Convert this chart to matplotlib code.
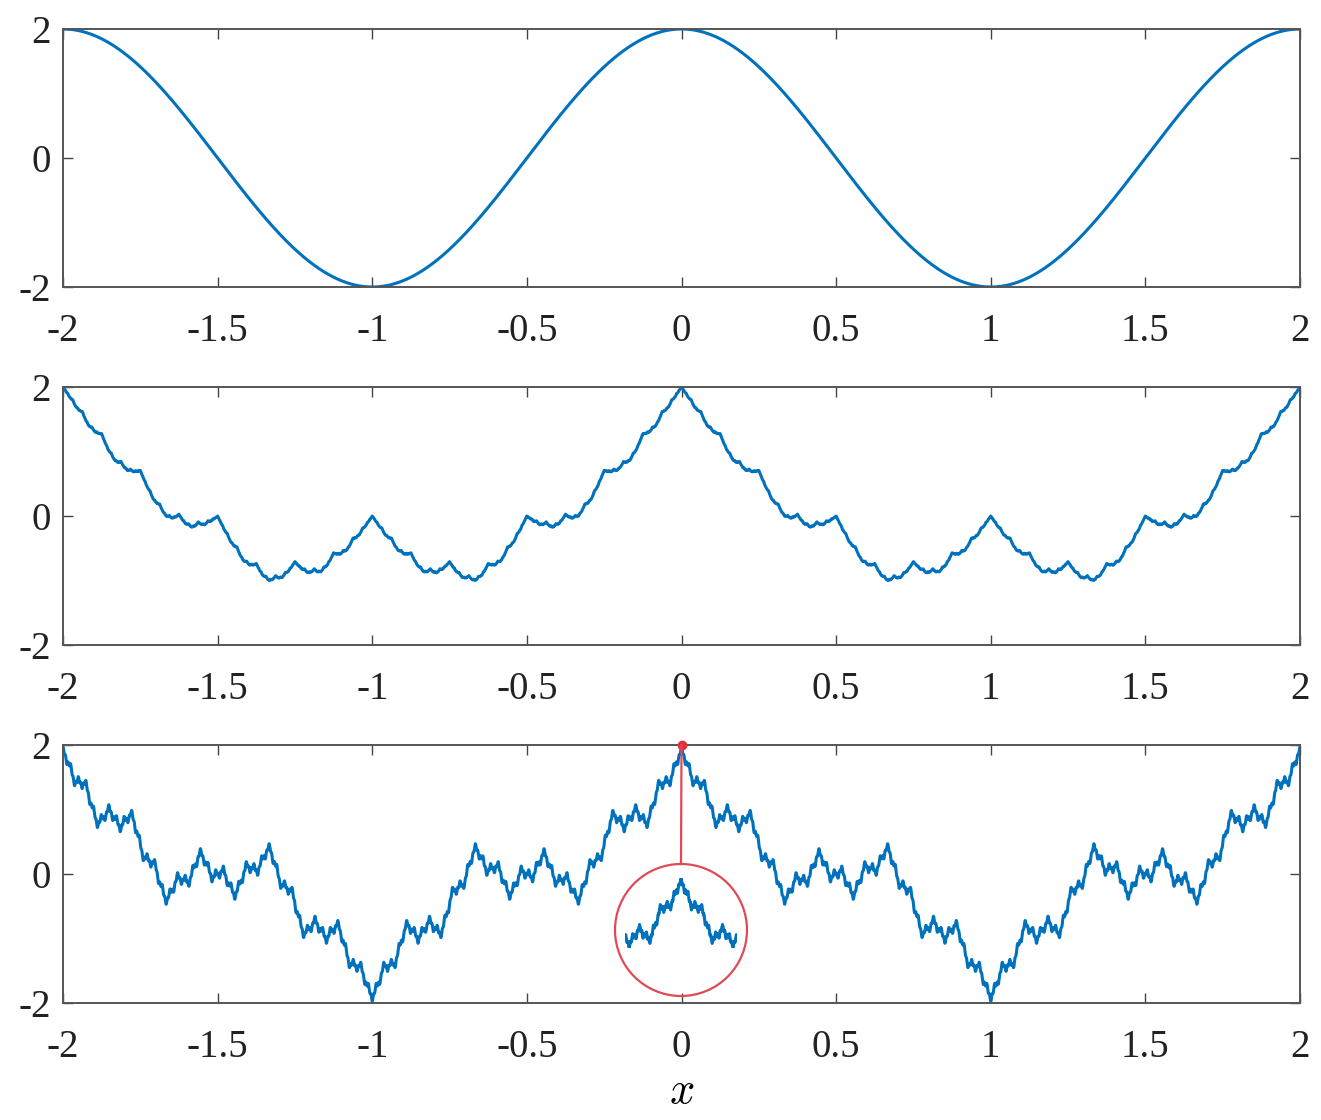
import numpy as np
import matplotlib
matplotlib.use("Agg")
import matplotlib.pyplot as plt
from matplotlib.patches import Ellipse
from matplotlib.lines import Line2D

# Weierstrass-type sums W(x) = sum a^n cos(b^n pi x), parameters
# (values at x = 0, +-1 and +-2/3 fix a = 0.5 and b = 1, 2, 3)
ratio_a = [0.5, 0.5, 0.5]
base_b = [1, 2, 3]
n_terms = [30, 12, 6]
x_ticks = [-2, -1.5, -1, -0.5, 0, 0.5, 1, 1.5, 2]
x_tick_labels = ["-2", "-1.5", "-1", "-0.5", "0", "0.5", "1", "1.5", "2"]
y_ticks = [-2, 0, 2]
y_tick_labels = ["-2", "0", "2"]
inset_range = [-0.2 / 3, 0.2 / 3]   # zoomed window shown inside the circle
peak = [0, 2]

plt.rcParams["font.family"] = ["Liberation Serif", "DejaVu Serif"]
plt.rcParams["mathtext.fontset"] = "cm"
plt.rcParams["axes.unicode_minus"] = False

blue = "#0072BD"
red = "#e0303a"
W, H = 1321, 1120


def weier(x, a, b, n):
    y = np.zeros_like(x)
    for k in range(n):
        y += a ** k * np.cos(b ** k * np.pi * x)
    return y


fig = plt.figure(figsize=(W / 100, H / 100), dpi=100)
tops = [29, 387, 745]
axes = []
x = np.linspace(-2, 2, 24001)
for i, top in enumerate(tops):
    ax = fig.add_axes([63 / W, 1 - (top + 258) / H, 1237 / W, 258 / H])
    y = weier(x, ratio_a[i], base_b[i], n_terms[i])
    ax.plot(x, y, color=blue, lw=2.2)
    ax.set_xlim(-2, 2)
    ax.set_ylim(-2, 2)
    ax.set_xticks(x_ticks)
    ax.set_xticklabels(x_tick_labels)
    ax.set_yticks(y_ticks)
    ax.set_yticklabels(y_tick_labels)
    ax.tick_params(direction="in", length=7, width=1, colors="#444444",
                   labelcolor="#222222", labelsize=28, top=True, right=True, pad=19)
    ax.tick_params(axis="y", pad=9)
    for s in ax.spines.values():
        s.set_color("#555555")
        s.set_linewidth(1.4)
    axes.append(ax)

axes[2].set_xlabel("$x$", fontsize=32, labelpad=4)

# red dot at the peak and magnifying circle
ax3 = axes[2]
ax3.plot(peak[0], peak[1], "o", color=red, ms=6, clip_on=False, zorder=5)

cx, cy, r = 681, 930, 66
circ = Ellipse((cx / W, 1 - cy / H), 2 * r / W, 2 * r / H, transform=fig.transFigure,
               fill=False, edgecolor="#e04a55", lw=1.6)
fig.add_artist(circ)
p = fig.transFigure.inverted().transform(ax3.transData.transform(peak))
fig.add_artist(Line2D([p[0], cx / W], [p[1], 1 - (cy - r) / H],
                      transform=fig.transFigure, color="#e04a55", lw=1.6))

xi = np.linspace(inset_range[0], inset_range[1], 4001)
yi = weier(xi, ratio_a[2], base_b[2], 8)
axi = fig.add_axes([625 / W, 1 - 948 / H, 112 / W, 70 / H])
axi.plot(xi, yi, color=blue, lw=2.2)
axi.set_xlim(inset_range)
axi.set_ylim(yi.min(), yi.max())
axi.axis("off")

fig.savefig("out.png", dpi=100)
